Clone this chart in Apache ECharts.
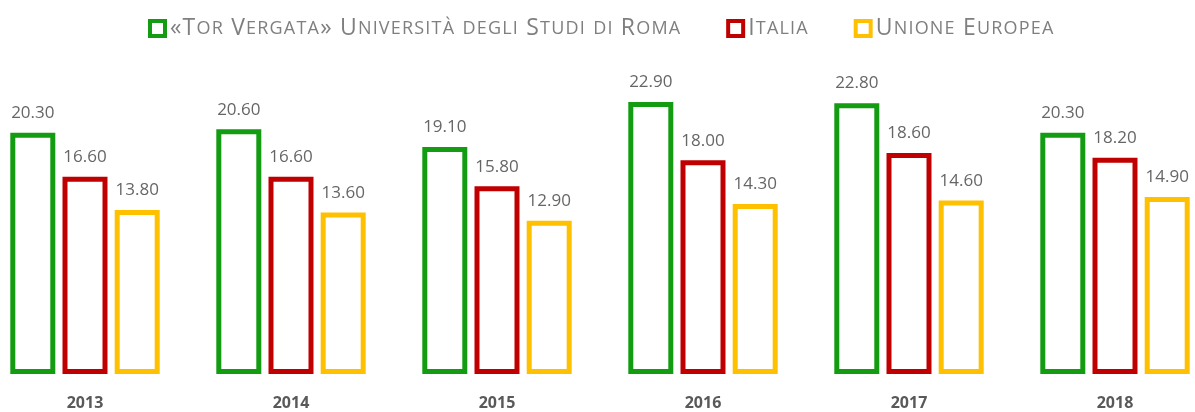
<!DOCTYPE html>
<html>
<head>
<meta charset="utf-8">
<script src="https://cdn.jsdelivr.net/npm/echarts@6/dist/echarts.min.js"></script>
<style>
  html, body { margin: 0; padding: 0; background: #fff; overflow: hidden; }
  #chart { width: 1236px; height: 412px; margin-left: -18px; }
</style>
</head>
<body>
<div id="chart"></div>
<script>
var years = ['2013', '2014', '2015', '2016', '2017', '2018']
var torVergata = [20.3, 20.6, 19.1, 22.9, 22.8, 20.3]
var italia = [16.6, 16.6, 15.8, 18.0, 18.6, 18.2]
var unioneEuropea = [13.8, 13.6, 12.9, 14.3, 14.6, 14.9]

var names = ['«Tor Vergata» Università degli Studi di Roma', 'Italia', 'Unione Europea']
var colors = ['#139c12', '#c00000', '#ffc000']

// maiuscoletto: minuscole -> maiuscole piccole, un segmento per lettera (spaziatura)
function smallCaps (txt) {
  var out = ''
  for (var i = 0; i < txt.length; i++) {
    var ch = txt[i]
    var m = (ch !== ch.toUpperCase()) ? 's' : 'b'
    out += '{' + m + '|' + ch.toUpperCase() + '}'
  }
  return out
}

function serie (name, data, color) {
  return {
    name: name,
    type: 'bar',
    data: data,
    barWidth: 45,
    barGap: '16%',
    itemStyle: {
      color: '#fff',
      borderColor: color,
      borderWidth: 5
    },
    label: {
      show: true,
      position: 'top',
      distance: 11,
      color: '#666',
      fontSize: 17,
      fontFamily: 'Open Sans',
      formatter: function (p) { return p.value.toFixed(2) }
    }
  }
}

var myChart = echarts.init(document.getElementById('chart'))
var option = {
  animation: false,
  legend: {
    top: 12,
    left: 161,
    itemWidth: 15,
    itemHeight: 15,
    itemGap: 46,
    icon: 'rect',
    itemStyle: { borderWidth: 4 },
    formatter: smallCaps,
    textStyle: {
      color: '#7f7f7f',
      fontFamily: 'Open Sans',
      fontSize: 23,
      rich: {
        b: { fontSize: 23, color: '#7f7f7f', fontFamily: 'Open Sans', padding: [0, 1.2, 0, 0] },
        s: { fontSize: 18, color: '#7f7f7f', fontFamily: 'Open Sans', padding: [0, 1.2, 0, 0] }
      }
    }
  },
  grid: {
    left: 0,
    right: 0,
    top: 77,
    bottom: 38
  },
  xAxis: {
    type: 'category',
    data: years,
    axisLine: { show: false },
    axisTick: { show: false },
    axisLabel: {
      margin: 21,
      color: '#595959',
      fontSize: 16,
      fontWeight: 'bold',
      fontFamily: 'Open Sans'
    }
  },
  yAxis: {
    type: 'value',
    min: 0,
    max: 25,
    show: false
  },
  series: [
    serie(names[0], torVergata, colors[0]),
    serie(names[1], italia, colors[1]),
    serie(names[2], unioneEuropea, colors[2])
  ]
}
myChart.setOption(option)
</script>
</body>
</html>
